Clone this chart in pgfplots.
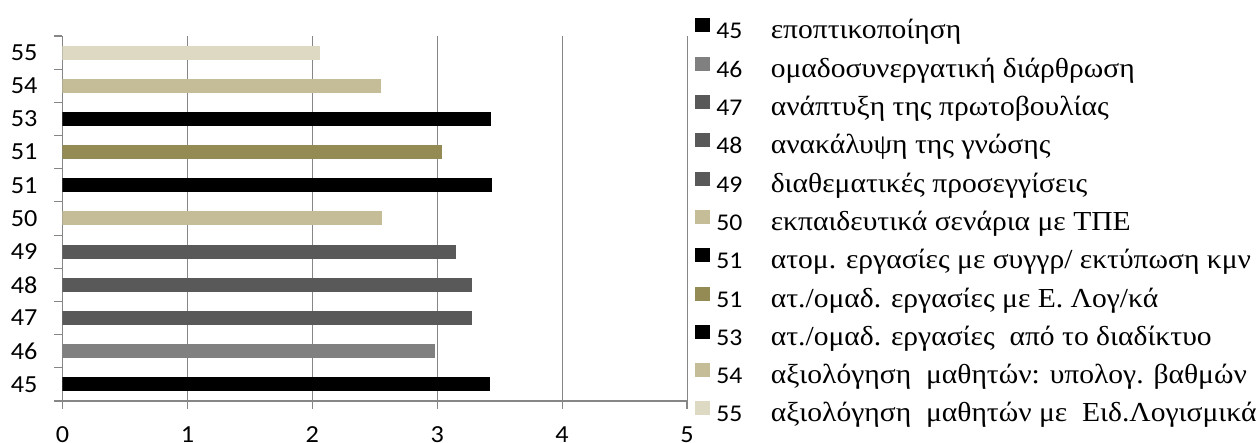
\documentclass[border=0pt]{standalone}
\usepackage{fontspec}
\setmainfont[FakeStretch=1.075]{Liberation Serif}
\newfontfamily\calibri[FakeStretch=1.07]{Carlito}
\usepackage{pgfplots}
\pgfplotsset{compat=1.18}

\definecolor{gridgray}{HTML}{868686}
\definecolor{cgray}{HTML}{808080}
\definecolor{cdark}{HTML}{595959}
\definecolor{ctan}{HTML}{C4BD97}
\definecolor{colv}{HTML}{948A54}
\definecolor{clight}{HTML}{DDD9C3}

% number in Carlito, then the description in serif
\newcommand{\entry}[2]{\makebox[54.5pt][l]{\calibri\fontsize{24}{28}\selectfont #1}#2}

\begin{document}
\begin{tikzpicture}
\begin{axis}[
  name=ax, at={(0,0)}, anchor=south west,
  scale only axis, width=624.5pt, height=365pt,
  xbar, bar width=14pt, bar shift=0pt,
  xmin=0, xmax=5, ymin=-0.5, ymax=10.5,
  axis lines*=left,
  axis line style={draw=gridgray, line width=1.1pt},
  xtick={0,...,5}, minor xtick={0,...,5},
  ytick={0,...,10}, yticklabels={45,46,47,48,49,50,51,51,53,54,55},
  minor ytick={-0.5,0.5,...,10.5},
  major tick length=0pt, minor tick length=8pt,
  tick align=outside,
  minor tick style={draw=gridgray, line width=1.1pt},
  xmajorgrids, grid style={draw=gridgray, line width=1pt},
  ticklabel style={font=\calibri\fontsize{24.5}{28}\selectfont},
  /pgf/number format/assume math mode=true,
  xticklabel style={anchor=center, yshift=-33.5pt},
  yticklabel style={anchor=center, xshift=-38.3pt},
  legend image code/.code={\fill[#1] (0pt,0pt) rectangle (15pt,14pt);},
  legend cell align=left,
  legend style={at={(1,1)}, anchor=north west, xshift=8.3pt, yshift=17.5pt,
    draw=none, fill=none, inner sep=0pt, outer sep=0pt,
    row sep=10.8pt, column sep=6pt,
    nodes={inner sep=0pt, text height=20pt, text depth=7pt,
      font=\fontsize{27.5}{32}\selectfont}},
]
\addplot[fill=black, draw=none] coordinates {(3.42,0)};
\addlegendentry{\entry{45}{εποπτικοποίηση}}
\addplot[fill=cgray, draw=none] coordinates {(2.98,1)};
\addlegendentry{\entry{46}{ομαδοσυνεργατική διάρθρωση}}
\addplot[fill=cdark, draw=none] coordinates {(3.28,2)};
\addlegendentry{\entry{47}{ανάπτυξη της πρωτοβουλίας}}
\addplot[fill=cdark, draw=none] coordinates {(3.28,3)};
\addlegendentry{\entry{48}{ανακάλυψη της γνώσης}}
\addplot[fill=cdark, draw=none] coordinates {(3.15,4)};
\addlegendentry{\entry{49}{διαθεματικές προσεγγίσεις}}
\addplot[fill=ctan, draw=none] coordinates {(2.56,5)};
\addlegendentry{\entry{50}{εκπαιδευτικά σενάρια με ΤΠΕ}}
\addplot[fill=black, draw=none] coordinates {(3.44,6)};
\addlegendentry{\entry{51}{ατομ. εργασίες με συγγρ/ εκτύπωση κμν}}
\addplot[fill=colv, draw=none] coordinates {(3.04,7)};
\addlegendentry{\entry{51}{ατ./ομαδ. εργασίες με Ε. Λογ/κά}}
\addplot[fill=black, draw=none] coordinates {(3.43,8)};
\addlegendentry{\entry{53}{ατ./ομαδ. εργασίες\ \ από το διαδίκτυο}}
\addplot[fill=ctan, draw=none] coordinates {(2.55,9)};
\addlegendentry{\entry{54}{αξιολόγηση\ \ μαθητών: υπολογ. βαθμών}}
\addplot[fill=clight, draw=none] coordinates {(2.06,10)};
\addlegendentry{\entry{55}{αξιολόγηση\ \ μαθητών με\ \ Ειδ.Λογισμικά}}
\end{axis}
\pgfresetboundingbox
\path[use as bounding box] ([shift={(-62.5pt,-42pt)}]ax.south west)
  rectangle ([shift={(1196.5pt,401pt)}]ax.south west);
\end{tikzpicture}
\end{document}
